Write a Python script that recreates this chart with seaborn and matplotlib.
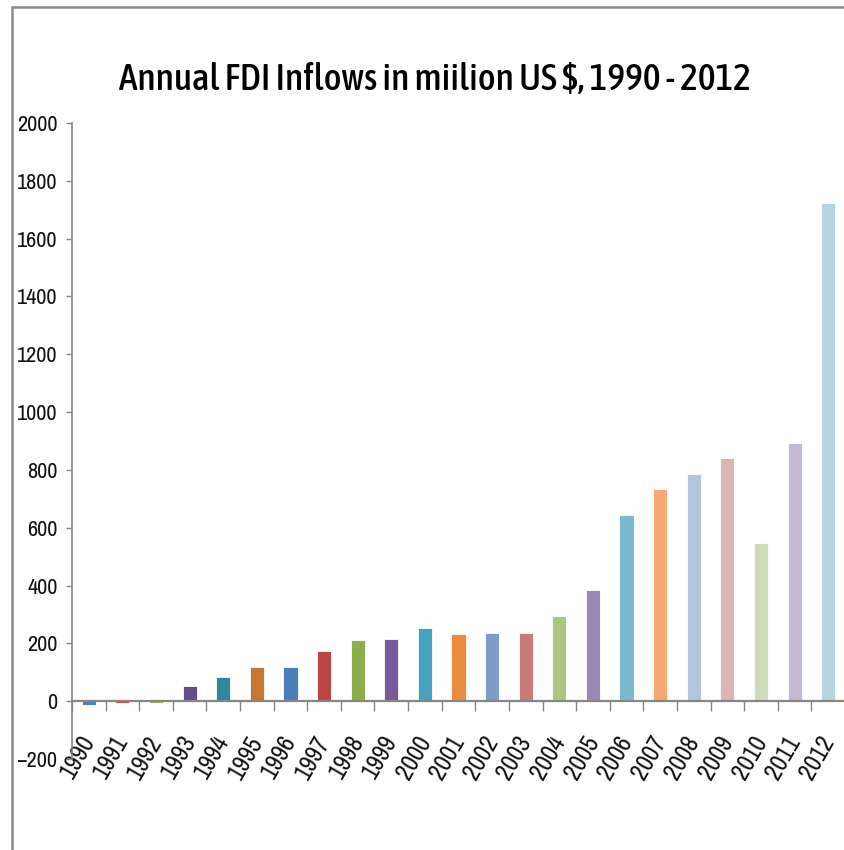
import matplotlib
matplotlib.use("Agg")
import matplotlib.pyplot as plt
from matplotlib import font_manager
from matplotlib.lines import Line2D
from matplotlib.ticker import FixedLocator, MultipleLocator
import seaborn as sns
import pandas as pd

years = [str(y) for y in range(1990, 2013)]
inflows = [-13, -6, -5, 52, 83, 118, 118, 173, 211, 215, 252, 232, 235, 235,
           294, 384, 644, 733, 785, 841, 547, 893, 1723]
bar_colors = ['#4F81BD', '#C0504D', '#9BBB59', '#654D86', '#31869B', '#C5762F',
              '#4A7EBB', '#B94643', '#8EAE4C', '#775A9C', '#45A2BC', '#EB8B3F',
              '#7F9DC9', '#CA7A78', '#AEC67F', '#9B89B5', '#7BB9CF', '#F7A872',
              '#B4C4DF', '#DDB3B3', '#CEDDB7', '#C3B9D3', '#B7D5E0']
title = "Annual FDI Inflows in miilion US $, 1990 - 2012"

sns.set_theme(style="white")


def _weight(w):
    names = {"normal": 400, "regular": 400, "book": 400, "medium": 500,
             "semibold": 600, "demibold": 600, "bold": 700}
    return w if isinstance(w, int) else names.get(str(w).lower(), 400)


def narrow_font(weights):
    """Pick an upright condensed face whose weight is in the given range."""
    best = None
    for f in font_manager.fontManager.ttflist:
        label = (f.name + " " + f.fname).lower()
        if f.style != "normal" or "mono" in label:
            continue
        if _weight(f.weight) not in weights:
            continue
        condensed = (str(f.stretch) in ("condensed", "semi-condensed", "extra-condensed")
                     or "narrow" in label or "condensed" in label)
        if not condensed:
            continue
        rank = 0 if "narrow" in label else 1 if "dejavu" not in label else 2
        if best is None or rank < best[0]:
            best = (rank, f.fname)
    if best:
        return font_manager.FontProperties(fname=best[1])
    return None


fp = narrow_font((400,)) or font_manager.FontProperties(family="Liberation Sans")
fp_title = narrow_font((500, 600)) or fp
plt.rcParams['font.family'] = ['Liberation Sans', 'DejaVu Sans']

df = pd.DataFrame({"year": years, "value": inflows})

fig = plt.figure(figsize=(8.45, 8.5), dpi=100)
ax = fig.add_axes([72 / 845, 1 - 759 / 850, 1 - 72 / 845, (759 - 123) / 850])

sns.barplot(data=df, x="year", y="value", hue="year", palette=bar_colors,
            width=0.42, dodge=False, legend=False, ax=ax, saturation=1,
            edgecolor="white", linewidth=0.6)

ax.set_ylim(-200, 2000)
ax.set_xlim(-0.5, len(years) - 0.5)
ax.yaxis.set_major_locator(MultipleLocator(200))
ax.set_xlabel("")
ax.set_ylabel("")

axis_gray = "#868686"
for side in ("top", "right"):
    ax.spines[side].set_visible(False)
ax.spines["left"].set_color(axis_gray)
ax.spines["left"].set_linewidth(1.2)
ax.spines["bottom"].set_position(("data", 0))
ax.spines["bottom"].set_color(axis_gray)
ax.spines["bottom"].set_linewidth(1.6)

ax.tick_params(axis="y", which="major", direction="out", length=4.5, width=1,
               color=axis_gray, pad=6, labelcolor="#111111", left=True)
ax.xaxis.set_minor_locator(FixedLocator([i + 0.5 for i in range(-1, len(years))]))
ax.tick_params(axis="x", which="minor", direction="out", length=7, width=1,
               color=axis_gray, bottom=True)
ax.tick_params(axis="x", which="major", length=0, pad=26, labelcolor="#111111")
for lab in ax.get_yticklabels():
    lab.set_fontproperties(fp)
    lab.set_fontsize(16)
for lab in ax.get_xticklabels():
    lab.set_fontproperties(fp)
    lab.set_fontsize(18)
    lab.set_rotation(60)
    lab.set_ha("right")
    lab.set_rotation_mode("anchor")
    lab.set_va("center")

ttl = fig.text(0.515, 1 - 80 / 850, title, ha="center", va="center",
               fontproperties=fp_title, color="#000000")
ttl.set_fontsize(30)

# size the title so it spans the intended heading width
renderer = fig.canvas.get_renderer()
w = ttl.get_window_extent(renderer).width
ttl.set_fontsize(30 * 630 / w)

# outer frame of the chart area
fig.add_artist(Line2D([12 / 845, 12 / 845], [0, 1 - 7 / 850], transform=fig.transFigure,
                      color="#8a8a8a", linewidth=1.8))
fig.add_artist(Line2D([12 / 845, 1], [1 - 7 / 850, 1 - 7 / 850], transform=fig.transFigure,
                      color="#8a8a8a", linewidth=1.8))

fig.savefig("out.png", dpi=100, facecolor="white")
